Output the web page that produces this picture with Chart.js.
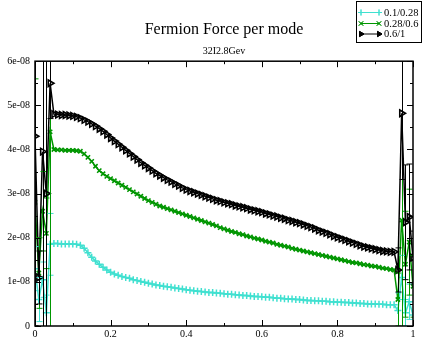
<!DOCTYPE html>
<html>
<head>
<meta charset="utf-8">
<script src="https://cdn.jsdelivr.net/npm/chart.js@4"></script>
<style>
  html, body { margin: 0; padding: 0; background: #fff; }
  canvas { display: block; }
</style>
</head>
<body>
<canvas id="chart" width="422" height="337"></canvas>
<script>
// mode position (fraction of the spectrum)
const modeX = [
  0, 0.01, 0.02, 0.03, 0.04, 0.05, 0.06, 0.07, 0.08, 0.09,
  0.10, 0.11, 0.12, 0.13, 0.14, 0.15, 0.16, 0.17, 0.18, 0.19,
  0.20, 0.21, 0.22, 0.23, 0.24, 0.25, 0.26, 0.27, 0.28, 0.29,
  0.30, 0.31, 0.32, 0.33, 0.34, 0.35, 0.36, 0.37, 0.38, 0.39,
  0.40, 0.41, 0.42, 0.43, 0.44, 0.45, 0.46, 0.47, 0.48, 0.49,
  0.50, 0.51, 0.52, 0.53, 0.54, 0.55, 0.56, 0.57, 0.58, 0.59,
  0.60, 0.61, 0.62, 0.63, 0.64, 0.65, 0.66, 0.67, 0.68, 0.69,
  0.70, 0.71, 0.72, 0.73, 0.74, 0.75, 0.76, 0.77, 0.78, 0.79,
  0.80, 0.81, 0.82, 0.83, 0.84, 0.85, 0.86, 0.87, 0.88, 0.89,
  0.90, 0.91, 0.92, 0.93, 0.94, 0.95, 0.96, 0.97, 0.98, 0.99, 1
];

// force values, in units of 1e-08
const force01 = [
  1.30, 0.60, 1.05, 0.30, 1.85, 1.87, 1.87, 1.86, 1.86, 1.86,
  1.86, 1.85, 1.83, 1.76, 1.66, 1.56, 1.47, 1.40, 1.33, 1.27,
  1.22, 1.18, 1.15, 1.12, 1.10, 1.08, 1.05, 1.03, 1.01, 0.99,
  0.97, 0.95, 0.93, 0.92, 0.90, 0.89, 0.88, 0.86, 0.85, 0.84,
  0.82, 0.81, 0.80, 0.79, 0.78, 0.77, 0.76, 0.76, 0.75, 0.74,
  0.73, 0.72, 0.72, 0.71, 0.70, 0.69, 0.69, 0.68, 0.67, 0.67,
  0.66, 0.65, 0.65, 0.64, 0.63, 0.63, 0.62, 0.61, 0.61, 0.60,
  0.60, 0.59, 0.58, 0.58, 0.57, 0.57, 0.56, 0.56, 0.55, 0.55,
  0.54, 0.54, 0.53, 0.53, 0.52, 0.52, 0.51, 0.51, 0.50, 0.50,
  0.50, 0.49, 0.49, 0.48, 0.48, 0.48, 0.35, 1.10, 0.30, 0.55, 0.25
];
const force028 = [
  2.80, 1.20, 2.60, 2.10, 4.40, 4.00, 3.99, 3.99, 3.98, 3.98,
  3.98, 3.97, 3.96, 3.90, 3.82, 3.73, 3.62, 3.52, 3.45, 3.39,
  3.34, 3.29, 3.24, 3.19, 3.14, 3.09, 3.04, 2.99, 2.94, 2.89,
  2.84, 2.80, 2.76, 2.72, 2.69, 2.66, 2.63, 2.60, 2.57, 2.54,
  2.51, 2.48, 2.45, 2.42, 2.39, 2.36, 2.33, 2.30, 2.27, 2.23,
  2.20, 2.17, 2.14, 2.12, 2.09, 2.07, 2.04, 2.02, 1.99, 1.97,
  1.95, 1.92, 1.90, 1.88, 1.85, 1.83, 1.81, 1.79, 1.76, 1.74,
  1.72, 1.70, 1.68, 1.66, 1.64, 1.62, 1.60, 1.58, 1.56, 1.54,
  1.52, 1.50, 1.48, 1.46, 1.44, 1.43, 1.41, 1.39, 1.38, 1.36,
  1.35, 1.33, 1.31, 1.30, 1.28, 1.27, 0.60, 2.40, 1.40, 1.90, 0.90
];
const force06 = [
  4.30, 1.10, 3.95, 3.00, 5.50, 4.80, 4.79, 4.78, 4.78, 4.77,
  4.76, 4.74, 4.71, 4.67, 4.63, 4.58, 4.53, 4.47, 4.41, 4.34,
  4.26, 4.19, 4.12, 4.05, 3.98, 3.91, 3.84, 3.77, 3.70, 3.64,
  3.58, 3.52, 3.46, 3.41, 3.36, 3.31, 3.27, 3.22, 3.18, 3.13,
  3.09, 3.06, 3.03, 3.00, 2.97, 2.94, 2.91, 2.88, 2.85, 2.83,
  2.80, 2.78, 2.76, 2.73, 2.71, 2.69, 2.67, 2.64, 2.62, 2.60,
  2.58, 2.55, 2.53, 2.50, 2.48, 2.45, 2.43, 2.40, 2.38, 2.35,
  2.33, 2.30, 2.27, 2.24, 2.21, 2.17, 2.14, 2.11, 2.08, 2.04,
  2.01, 1.98, 1.95, 1.92, 1.89, 1.86, 1.83, 1.80, 1.78, 1.76,
  1.74, 1.72, 1.70, 1.69, 1.68, 1.68, 1.27, 4.82, 2.35, 2.47, 1.55
];

// error bars: [point index, half height]
const err01 = [[0, 0.5], [1, 0.5], [2, 0.4], [3, 0.4], [4, 0.7],
  [96, 0.4], [97, 0.5], [98, 0.3], [99, 0.4], [100, 0.3]];
const err028 = [[0, 2.8], [1, 0.8], [2, 0.9], [3, 0.8], [4, 5.0],
  [96, 0.6], [97, 6.0], [98, 1.2], [99, 1.2], [100, 0.7]];
const err06 = [[0, 4.3], [1, 0.6], [2, 4.0], [3, 3.1], [4, 0.8],
  [96, 0.5], [97, 1.5], [98, 1.3], [99, 1.2], [100, 0.6]];

const seriesNames = ["0.1/0.28", "0.28/0.6", "0.6/1"];
const yTicks = [0, 1, 2, 3, 4, 5, 6];
const xTicks = [0, 0.2, 0.4, 0.6, 0.8, 1];

const cyan = "rgb(64, 224, 208)";
const green = "rgb(0, 150, 0)";
const black = "rgb(0, 0, 0)";
const serif = "'Liberation Serif', 'DejaVu Serif', serif";

function pts(ys) {
  return ys.map((y, i) => ({ x: modeX[i], y: y }));
}

const errorBars = {
  id: "errorBars",
  afterDatasetsDraw(chart) {
    const ctx = chart.ctx;
    const area = chart.chartArea;
    const xs = chart.scales.x, ys = chart.scales.y;
    ctx.save();
    ctx.beginPath();
    ctx.rect(area.left, area.top, area.right - area.left, area.bottom - area.top);
    ctx.clip();
    chart.data.datasets.forEach(ds => {
      ctx.strokeStyle = ds.borderColor;
      ctx.lineWidth = 1;
      ds.errors.forEach(([i, e]) => {
        const px = Math.round(xs.getPixelForValue(ds.data[i].x)) + 0.5;
        const top = ys.getPixelForValue(ds.data[i].y + e);
        const bot = ys.getPixelForValue(ds.data[i].y - e);
        ctx.beginPath();
        ctx.moveTo(px, top); ctx.lineTo(px, bot);
        ctx.moveTo(px - 3, top); ctx.lineTo(px + 3, top);
        ctx.moveTo(px - 3, bot); ctx.lineTo(px + 3, bot);
        ctx.stroke();
      });
    });
    ctx.restore();
  }
};

const frame = {
  id: "frame",
  afterDraw(chart) {
    const ctx = chart.ctx;
    const a = chart.chartArea;
    const xs = chart.scales.x, ys = chart.scales.y;
    ctx.save();
    ctx.strokeStyle = "#000";
    ctx.lineWidth = 1.5;
    ctx.strokeRect(a.left, a.top, a.right - a.left, a.bottom - a.top);
    ctx.lineWidth = 1;
    ctx.beginPath();
    for (let k = 0; k <= 10; k++) {
      const px = Math.round(xs.getPixelForValue(k / 10)) + 0.5;
      const len = k % 2 === 0 ? 6 : 3;
      ctx.moveTo(px, a.bottom); ctx.lineTo(px, a.bottom - len);
      ctx.moveTo(px, a.top); ctx.lineTo(px, a.top + len);
    }
    for (let k = 0; k <= 12; k++) {
      const py = Math.round(ys.getPixelForValue(k / 2)) + 0.5;
      const len = k % 2 === 0 ? 6 : 3;
      ctx.moveTo(a.left, py); ctx.lineTo(a.left + len, py);
      ctx.moveTo(a.right, py); ctx.lineTo(a.right - len, py);
    }
    ctx.stroke();

    // legend box
    const bx = 356, by = 1, bw = 65, bh = 41;
    ctx.fillStyle = "#fff";
    ctx.fillRect(bx, by, bw, bh);
    ctx.lineWidth = 1;
    ctx.strokeRect(bx + 0.5, by + 0.5, bw, bh);
    ctx.font = "10.5px " + serif;
    ctx.textBaseline = "middle";
    const rows = [12.5, 23.5, 34];
    chart.data.datasets.forEach((ds, i) => {
      const y = rows[i];
      ctx.strokeStyle = ds.borderColor;
      ctx.lineWidth = 1;
      ctx.beginPath();
      ctx.moveTo(361, y); ctx.lineTo(379, y);
      ctx.stroke();
      [361, 379].forEach(x => {
        Chart.helpers.drawPoint(ctx, {
          pointStyle: ds.pointStyle, radius: 3,
          rotation: ds.pointRotation || 0, borderWidth: 1
        }, x, y);
        ctx.stroke();
      });
      ctx.fillStyle = "#000";
      ctx.fillText(seriesNames[i], 384, y + 0.5);
    });
    ctx.restore();
  }
};

new Chart(document.getElementById("chart"), {
  type: "line",
  data: {
    datasets: [
      {
        label: seriesNames[0], data: pts(force01), errors: err01,
        borderColor: cyan, backgroundColor: "transparent",
        pointStyle: "cross", pointRadius: 3.5, pointBorderWidth: 1.5,
        pointBorderColor: cyan, borderWidth: 1.5, order: 2
      },
      {
        label: seriesNames[1], data: pts(force028), errors: err028,
        borderColor: green, backgroundColor: "transparent",
        pointStyle: "crossRot", pointRadius: 3, pointBorderWidth: 1.6,
        pointBorderColor: green, borderWidth: 1.5, order: 1
      },
      {
        label: seriesNames[2], data: pts(force06), errors: err06,
        borderColor: black, backgroundColor: "transparent",
        pointStyle: "triangle", pointRotation: 90, pointRadius: 3.8,
        pointBorderWidth: 1.6, pointBorderColor: black,
        pointBackgroundColor: "rgba(255,255,255,0)", borderWidth: 1.5, order: 0
      }
    ]
  },
  options: {
    responsive: false,
    animation: false,
    devicePixelRatio: 1,
    layout: { padding: { left: 0, right: 9, top: 0, bottom: 0 } },
    plugins: {
      legend: { display: false },
      tooltip: { enabled: false },
      title: {
        display: true, text: "Fermion Force per mode", fullSize: false,
        color: "#000", font: { family: serif, size: 16, weight: "normal", lineHeight: 1.2 },
        padding: { top: 20, bottom: 3 }
      },
      subtitle: {
        display: true, text: "32I2.8Gev", fullSize: false,
        color: "#000", font: { family: serif, size: 10, weight: "normal", lineHeight: 1.2 },
        padding: { top: 3, bottom: 4 }
      }
    },
    scales: {
      x: {
        type: "linear", min: 0, max: 1,
        grid: { display: false, drawTicks: false },
        border: { display: false },
        afterBuildTicks: s => { s.ticks = xTicks.map(v => ({ value: v })); },
        afterFit: s => { s.height = 11; },
        ticks: {
          color: "#000", padding: 2, maxRotation: 0,
          font: { family: serif, size: 10 },
          callback: v => String(+v.toFixed(1))
        }
      },
      y: {
        type: "linear", min: 0, max: 6,
        grid: { display: false, drawTicks: false },
        border: { display: false },
        afterBuildTicks: s => { s.ticks = yTicks.map(v => ({ value: v })); },
        afterFit: s => { s.width = 35; },
        ticks: {
          color: "#000", padding: 5,
          font: { family: serif, size: 10 },
          callback: v => v === 0 ? "0" : v + "e-08"
        }
      }
    }
  },
  plugins: [errorBars, frame]
});
</script>
</body>
</html>
